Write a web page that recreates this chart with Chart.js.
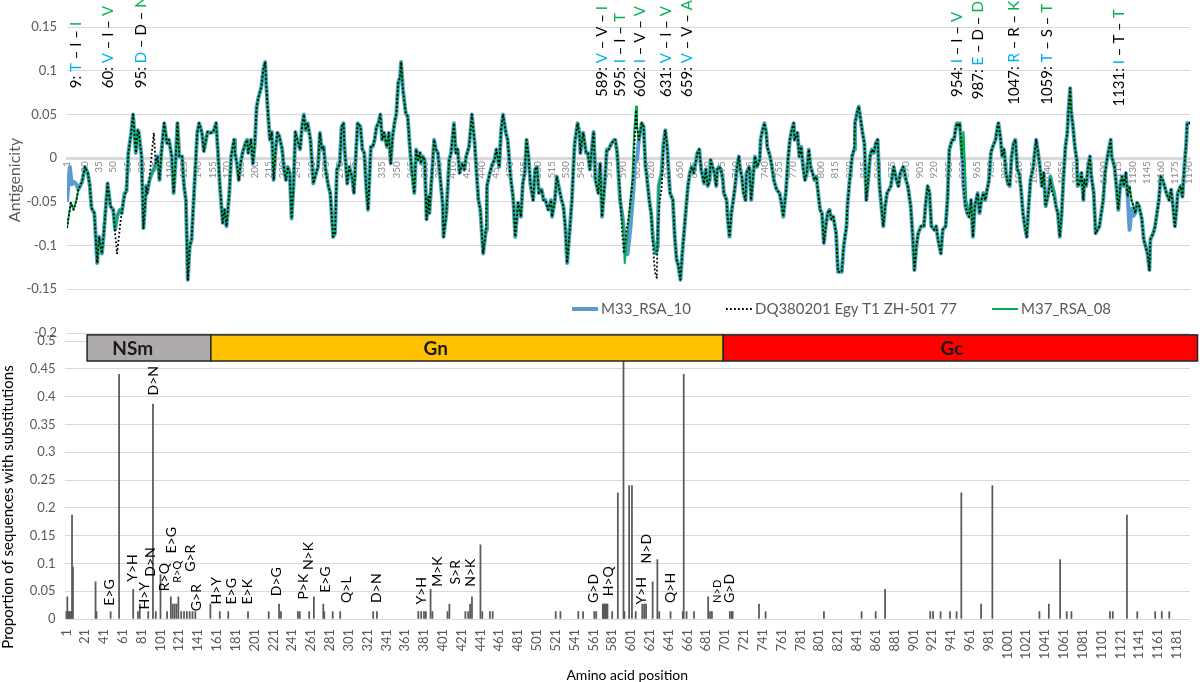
<!DOCTYPE html>
<html>
<head>
<meta charset="utf-8">
<script src="https://cdn.jsdelivr.net/npm/chart.js@4.4.1/dist/chart.umd.min.js"></script>
<style>
  html, body { margin: 0; background: #fff; }
  #wrap { position: relative; width: 1200px; height: 682px; overflow: hidden; }
  #topBox { position: absolute; left: 0; top: 0; width: 1200px; height: 345px; }
  #botBox { position: absolute; left: 0; top: 300px; width: 1200px; height: 382px; }
</style>
</head>
<body>
<div id="wrap">
  <div id="topBox"><canvas id="antigenChart" width="1200" height="345"></canvas></div>
  <div id="botBox"><canvas id="substChart" width="1200" height="382"></canvas></div>
</div>
<script>
// ---- antigenicity profile (shared by the three strains) ----
const sharedProfile = [
  [1,-0.080],[5,-0.051],[8,-0.059],[11,-0.048],[13,-0.036],[17,-0.027],[20,-0.010],[23,-0.017],[25,-0.030],[27,-0.057],
  [30,-0.063],[33,-0.120],[35,-0.090],[38,-0.109],[40,-0.086],[44,-0.029],[47,-0.055],[50,-0.059],[52,-0.082],[54,-0.067],
  [57,-0.059],[59,-0.063],[62,-0.040],[64,-0.038],[66,0.006],[69,0.029],[71,0.050],[74,0.006],[76,0.032],[77,0.030],
  [80,0.002],[82,-0.080],[85,-0.032],[86,-0.040],[88,-0.027],[91,-0.017],[94,-0.010],[97,0.002],[99,-0.025],[101,0.006],
  [104,0.040],[107,0.017],[109,0.021],[112,0.002],[114,-0.040],[116,-0.006],[118,0.040],[120,0.002],[123,0.002],[125,-0.032],
  [127,-0.048],[129,-0.139],[131,-0.101],[133,-0.093],[136,-0.032],[139,0.029],[141,0.040],[144,0.029],[146,0.008],[149,0.025],
  [150,0.030],[153,0.029],[156,0.030],[159,0.040],[161,0.006],[163,-0.032],[166,-0.074],[168,-0.059],[170,-0.078],[173,-0.040],
  [175,0.002],[178,0.021],[179,0.006],[181,-0.006],[183,-0.025],[185,-0.006],[187,0.006],[190,0.017],[192,0.021],[193,0.006],
  [196,0.021],[198,-0.006],[200,0.017],[202,0.059],[204,0.070],[207,0.082],[209,0.101],[211,0.110],[212,0.086],[214,0.051],
  [216,0.021],[218,0.030],[220,-0.025],[222,0.010],[224,0.029],[226,0.025],[229,0.010],[231,-0.013],[233,-0.025],[235,-0.010],
  [237,-0.017],[239,-0.069],[241,-0.032],[243,0.030],[245,0.021],[248,0.010],[250,0.036],[252,0.050],[254,0.032],[256,0.040],
  [259,0.021],[261,-0.010],[262,-0.029],[265,-0.017],[267,-0.010],[269,0.029],[271,0.010],[273,0.013],[275,-0.013],[278,-0.032],
  [280,-0.040],[283,-0.090],[285,-0.086],[287,-0.013],[290,-0.006],[292,0.036],[294,0.040],[295,0.013],[298,-0.029],[300,-0.010],
  [303,-0.021],[305,-0.040],[307,0.002],[309,0.040],[312,0.036],[314,0.010],[316,0.006],[318,-0.032],[320,-0.059],[323,0.013],
  [325,0.013],[327,0.021],[329,0.036],[331,0.040],[333,0.050],[335,0.021],[337,0.029],[340,0.013],[342,0.029],[344,-0.006],
  [346,0.025],[348,0.040],[350,0.051],[352,0.086],[354,0.093],[355,0.110],[357,0.078],[360,0.051],[362,0.048],[364,0.017],
  [366,-0.010],[369,-0.040],[371,0.010],[373,-0.002],[375,0.006],[376,-0.006],[378,0.002],[380,-0.002],[382,-0.070],[384,-0.044],
  [385,-0.063],[388,-0.013],[390,0.021],[392,0.010],[394,0.006],[396,-0.017],[399,-0.051],[400,-0.090],[403,-0.063],[406,-0.002],
  [408,0.006],[411,0.040],[413,0.006],[415,0.010],[417,-0.017],[420,-0.006],[422,-0.013],[424,0.002],[427,0.013],[429,0.036],
  [430,0.050],[433,0.017],[435,-0.017],[437,-0.048],[439,-0.059],[442,-0.109],[445,-0.082],[446,-0.032],[449,-0.017],[452,-0.006],
  [454,-0.002],[456,0.010],[459,-0.010],[461,0.032],[463,0.050],[466,0.029],[468,0.021],[471,-0.021],[474,-0.048],[476,-0.090],
  [479,-0.051],[482,-0.067],[484,-0.029],[486,-0.017],[488,0.021],[490,0.002],[492,-0.029],[495,-0.048],[497,-0.013],[499,-0.010],
  [501,-0.040],[504,-0.036],[506,-0.048],[508,-0.048],[511,-0.059],[514,-0.048],[515,-0.067],[518,-0.048],[520,-0.021],[522,-0.032],
  [525,-0.048],[527,-0.055],[529,-0.078],[531,-0.120],[534,-0.078],[536,-0.048],[538,-0.002],[539,0.017],[542,0.040],[544,0.029],
  [545,0.006],[548,0.029],[551,0.006],[553,0.006],[555,-0.013],[559,0.030],[561,-0.025],[564,-0.040],[566,-0.006],[568,-0.067],
  [571,-0.025],[573,0.010],[575,0.010],[578,0.017],[581,0.021],[582,0.021],[584,0.006],[587,-0.048],[590,-0.070],[592,-0.120],
  [595,-0.086],[598,-0.048],[600,-0.025],[602,0.029],[604,0.059],[605,0.036],[607,0.021],[610,0.040],[612,0.036],[614,-0.010],
  [615,-0.017],[618,-0.048],[620,-0.063],[622,-0.093],[625,-0.109],[627,-0.101],[628,-0.032],[631,-0.017],[633,0.017],[635,0.032],
  [637,0.013],[638,-0.006],[640,-0.040],[643,-0.048],[645,-0.090],[647,-0.116],[649,-0.124],[651,-0.139],[653,-0.109],[656,-0.070],
  [659,-0.032],[661,-0.017],[663,-0.010],[665,-0.017],[667,-0.006],[669,0.006],[671,0.010],[673,-0.013],[676,-0.029],[678,-0.013],
  [680,-0.032],[682,-0.025],[683,-0.002],[685,-0.010],[687,-0.017],[689,-0.032],[690,-0.013],[692,-0.010],[694,-0.013],[696,-0.025],
  [697,-0.040],[700,-0.048],[701,-0.067],[703,-0.090],[705,-0.063],[707,-0.048],[709,-0.032],[711,-0.010],[713,0.002],[714,-0.010],
  [716,-0.021],[718,-0.040],[720,-0.048],[721,-0.017],[724,-0.010],[725,-0.029],[726,-0.048],[728,-0.021],[730,0.002],[732,-0.010],
  [735,-0.002],[736,0.021],[738,0.032],[740,0.040],[742,0.029],[743,0.013],[746,0.002],[748,-0.010],[750,-0.025],[753,-0.036],
  [756,-0.040],[758,-0.051],[760,-0.067],[763,-0.036],[765,-0.002],[767,0.021],[769,0.032],[771,0.040],[772,0.021],[775,0.029],
  [777,0.002],[779,0.013],[781,-0.010],[783,-0.025],[785,-0.017],[787,0.010],[789,-0.010],[791,-0.017],[793,-0.025],[795,-0.021],
  [797,-0.040],[799,-0.059],[801,-0.063],[803,-0.097],[805,-0.078],[807,-0.063],[809,-0.059],[811,-0.070],[813,-0.067],[816,-0.086],
  [818,-0.130],[820,-0.130],[822,-0.130],[824,-0.101],[827,-0.078],[828,-0.055],[830,-0.029],[833,0.002],[835,0.010],[836,0.040],
  [838,0.051],[840,0.059],[842,0.044],[844,0.029],[846,0.017],[848,-0.048],[850,-0.025],[852,0.002],[854,0.010],[856,0.006],
  [858,0.017],[860,0.021],[862,-0.032],[864,-0.055],[866,-0.078],[868,-0.055],[870,-0.040],[874,-0.032],[877,-0.010],[880,-0.025],
  [882,-0.032],[884,-0.017],[887,-0.010],[888,-0.013],[890,-0.025],[892,-0.032],[895,-0.055],[897,-0.086],[899,-0.128],[901,-0.101],
  [903,-0.086],[906,-0.078],[909,-0.078],[911,-0.051],[913,-0.032],[915,-0.040],[917,-0.078],[920,-0.082],[922,-0.078],[924,-0.093],
  [927,-0.109],[929,-0.082],[932,-0.078],[934,-0.048],[936,0.010],[939,0.021],[941,0.021],[943,0.036],[944,0.040],[946,0.036],
  [947,0.040],[950,-0.002],[951,-0.032],[953,-0.055],[955,-0.063],[957,-0.067],[959,-0.048],[961,-0.090],[963,-0.055],[966,-0.040],
  [968,-0.063],[970,-0.048],[972,-0.040],[974,-0.048],[976,-0.036],[978,-0.025],[980,0.006],[982,0.013],[985,0.021],[987,0.036],
  [988,0.040],[990,0.025],[992,0.002],[994,0.010],[996,-0.017],[998,-0.029],[1000,-0.032],[1002,0.002],[1004,0.017],[1006,0.021],
  [1008,-0.013],[1010,-0.017],[1012,-0.036],[1014,-0.063],[1016,-0.078],[1018,-0.090],[1020,-0.055],[1022,-0.025],[1025,-0.010],[1026,0.002],
  [1028,0.021],[1030,0.006],[1032,-0.010],[1034,-0.032],[1036,-0.017],[1038,-0.055],[1041,-0.040],[1043,-0.021],[1045,-0.032],[1047,-0.040],
  [1049,-0.055],[1051,-0.063],[1053,-0.090],[1055,-0.063],[1057,-0.021],[1059,0.013],[1061,0.029],[1062,0.051],[1064,0.080],[1065,0.055],
  [1067,0.036],[1069,0.013],[1071,-0.002],[1072,-0.032],[1074,-0.029],[1076,-0.017],[1078,-0.048],[1079,-0.025],[1081,-0.032],[1083,-0.010],
  [1085,0.002],[1086,-0.017],[1089,-0.040],[1091,-0.086],[1093,-0.082],[1095,-0.078],[1097,-0.063],[1099,-0.048],[1101,-0.017],[1103,-0.002],
  [1105,0.010],[1107,0.021],[1108,0.002],[1111,-0.010],[1113,-0.032],[1115,-0.059],[1117,-0.032],[1119,-0.021],[1121,-0.032],[1123,-0.017],
  [1125,-0.044],[1127,-0.032],[1129,-0.048],[1131,-0.055],[1133,-0.063],[1135,-0.051],[1137,-0.055],[1140,-0.070],[1142,-0.093],[1144,-0.101],
  [1146,-0.109],[1148,-0.128],[1149,-0.093],[1152,-0.086],[1154,-0.078],[1156,-0.063],[1158,-0.048],[1160,-0.021],[1162,-0.025],[1164,-0.032],
  [1166,-0.040],[1169,-0.048],[1171,-0.036],[1173,-0.055],[1175,-0.078],[1177,-0.055],[1178,-0.040],[1181,-0.032],[1183,-0.044],[1185,-0.010],
  [1187,0.017],[1188,0.040],[1191,0.040]
];

// stretches where one strain leaves the shared profile
const m33Segments = [
  [[1,-0.050],[4,-0.010],[6,-0.030],[8,-0.027],[11,-0.030],[13,-0.036]],
  [[590,-0.070],[592,-0.090],[595,-0.110],[598,-0.080],[601,-0.040],[603,0.000],[605,-0.002],[607,0.021]],
  [[1125,-0.044],[1127,-0.082],[1129,-0.058],[1131,-0.066],[1133,-0.063],[1135,-0.051]]
];
const dqSegments = [
  [[50,-0.059],[52,-0.086],[53,-0.097],[54,-0.109],[56,-0.090],[58,-0.070],[61,-0.048],[63,-0.040]],
  [[88,-0.027],[91,0.008],[93,0.029],[95,-0.006]],
  [[584,0.006],[587,-0.040],[589,-0.080],[591,-0.109],[594,-0.082],[597,-0.060],[601,-0.021],[604,0.055]],
  [[620,-0.063],[622,-0.101],[624,-0.130],[626,-0.137],[627,-0.082],[629,-0.048],[631,-0.036],[633,0.010]],
  [[1043,-0.025],[1045,-0.040],[1047,-0.044]]
];
const m37Segments = [
  [[947,0.040],[949,0.000],[951,0.030],[954,-0.048],[957,-0.067]]
];

const topTicks = [1];
for (let v = 20; v <= 1190; v += 15) topTicks.push(v);

// labelled sites: M33 / DQ380201 / M37 residues
const mutSite = [9, 60, 95, 589, 595, 602, 631, 659, 954, 987, 1047, 1059, 1131];
const mutM33 = ['T', 'V', 'D', 'V', 'I', 'I', 'V', 'V', 'I', 'E', 'R', 'T', 'I'];
const mutDQ = ['I', 'I', 'D', 'V', 'I', 'V', 'I', 'V', 'I', 'D', 'R', 'S', 'T'];
const mutM37 = ['I', 'V', 'N', 'I', 'T', 'V', 'V', 'A', 'V', 'D', 'K', 'T', 'T'];
const mutLabelAt = [11, 45, 80, 568, 587, 608, 635.5, 658, 944, 967, 1004.5, 1039.5, 1115.5];
const mutLabelBase = [0.080, 0.080, 0.080, 0.070, 0.070, 0.070, 0.070, 0.070, 0.070, 0.0675, 0.061, 0.061, 0.059];

// ---- substitution proportions per amino acid position ----
const substitutionSites = [
  [1,0.0133],[2,0.04],[3,0.0133],[4,0.0133],[5,0.0133],[6,0.0133],[7,0.1867],[8,0.0933],[32,0.0667],[33,0.0133],
  [48,0.0133],[57,0.44],[72,0.0533],[77,0.0133],[79,0.0267],[88,0.0133],[93,0.3867],[96,0.0133],[101,0.08],[108,0.0133],
  [112,0.04],[114,0.0267],[116,0.0267],[118,0.0267],[120,0.04],[123,0.0133],[126,0.0133],[129,0.0133],[132,0.0133],[135,0.0133],
  [138,0.0133],[154,0.0267],[164,0.0133],[173,0.0133],[194,0.0133],[216,0.0133],[227,0.0267],[229,0.0133],[247,0.0133],[249,0.0133],
  [259,0.0133],[264,0.04],[274,0.0267],[275,0.0133],[284,0.0133],[292,0.0133],[327,0.0133],[331,0.0133],[375,0.0133],[378,0.0133],
  [381,0.0133],[383,0.0133],[388,0.0533],[390,0.0133],[406,0.0133],[408,0.0267],[425,0.0133],[428,0.0133],[430,0.0267],[432,0.04],
  [441,0.1333],[443,0.0133],[451,0.0133],[454,0.0133],[521,0.0133],[526,0.0133],[545,0.0133],[550,0.0133],[562,0.0133],[564,0.0133],
  [571,0.0267],[572,0.0267],[573,0.0267],[574,0.0267],[575,0.0267],[576,0.0267],[581,0.0133],[587,0.2267],[593,0.5],[594,0.0133],
  [599,0.24],[602,0.24],[606,0.0133],[613,0.0267],[615,0.0267],[617,0.0267],[624,0.0667],[629,0.1067],[631,0.0133],[643,0.0133],
  [656,0.0133],[657,0.44],[660,0.0133],[668,0.0133],[683,0.04],[685,0.0133],[687,0.0133],[706,0.0133],[708,0.0133],[709,0.0133],
  [737,0.0267],[744,0.0133],[806,0.0133],[846,0.0133],[861,0.0133],[871,0.0533],[919,0.0133],[922,0.0133],[930,0.0133],[940,0.0133],
  [947,0.0133],[952,0.2267],[973,0.0267],[985,0.24],[1035,0.0133],[1045,0.0267],[1057,0.1067],[1064,0.0133],[1069,0.0133],[1110,0.0133],
  [1113,0.0133],[1128,0.1867],[1139,0.0133],[1158,0.0133],[1165,0.0133],[1173,0.0133]
];

const bottomTicks = [];
for (let v = 1; v <= 1181; v += 20) bottomTicks.push(v);

const substLabelText = ['E>G','Y>H','H>Y','D>N','D>N','R>Q','E>G','R>Q','G>R','G>R','H>Y','E>G','E>K','D>G','P>K','N>K',
  'E>G','Q>L','D>N','Y>H','M>K','S>R','N>K','G>D','H>Q','Y>H','N>D','Q>H','N>D','G>D'];
const substLabelPos = [47, 71.5, 84, 90.5, 94, 105.5, 112.5, 119, 133, 139, 160.5, 176.5, 193.5, 224, 253, 258,
  276.5, 298.5, 330.5, 378.5, 395, 414, 430.5, 561, 577.5, 612, 617, 643, 693, 706];
const substLabelBase = [0.024, 0.067, 0.017, 0.076, 0.402, 0.05, 0.118, 0.065, 0.085, 0.014, 0.026, 0.026, 0.026, 0.041, 0.035, 0.088,
  0.047, 0.029, 0.029, 0.026, 0.058, 0.062, 0.058, 0.029, 0.041, 0.026, 0.1, 0.029, 0.029, 0.029];

const domainNames = ['NSm', 'Gn', 'Gc'];
const domainStart = [23, 154.5, 699];
const domainEnd = [154.5, 699, 1203];
const domainLabelAt = [71.5, 393.5, 942];

function buildSeries(segments) {
  let pts = sharedProfile.map(([x, y]) => ({ x, y }));
  segments.forEach(seg => {
    const lo = seg[0][0], hi = seg[seg.length - 1][0];
    pts = pts.filter(p => p.x < lo || p.x > hi);
    seg.forEach(([x, y]) => pts.push({ x, y }));
  });
  return pts.sort((a, b) => a.x - b.x);
}

// keep the plot area exactly where layout.padding puts it
function noScalePadding(s) {
  s.paddingLeft = 0; s.paddingRight = 0; s.paddingTop = 0; s.paddingBottom = 0;
}

Chart.defaults.font.family = 'Lato, "Open Sans", sans-serif';

const topExtras = {
  id: 'topExtras',
  afterDraw(chart) {
    const { ctx, scales: { x, y } } = chart;
    ctx.save();
    ctx.font = '15px Lato';
    ctx.textBaseline = 'middle';
    ctx.textAlign = 'left';
    mutSite.forEach((site, i) => {
      const parts = [[site + ': ', '#000'], [mutM33[i], '#00b0f0'], [' – ', '#000'], [mutDQ[i], '#000'], [' – ', '#000'], [mutM37[i], '#00b050']];
      ctx.save();
      ctx.translate(x.getPixelForValue(mutLabelAt[i]), y.getPixelForValue(mutLabelBase[i]));
      ctx.rotate(-Math.PI / 2);
      let off = 0;
      parts.forEach(([t, c]) => {
        ctx.fillStyle = c;
        ctx.fillText(t, off, 0);
        off += ctx.measureText(t).width;
      });
      ctx.restore();
    });

    // legend
    let lx = 572;
    const ly = 309;
    chart.data.datasets.forEach(ds => {
      ctx.beginPath();
      ctx.strokeStyle = ds.borderColor;
      ctx.lineWidth = Math.max(ds.borderWidth, 2);
      ctx.setLineDash(ds.borderDash || []);
      ctx.moveTo(lx, ly);
      ctx.lineTo(lx + 26, ly);
      ctx.stroke();
      ctx.setLineDash([]);
      ctx.fillStyle = '#595959';
      ctx.fillText(ds.label, lx + 29, ly);
      lx += 29 + ctx.measureText(ds.label).width + 35;
    });
    ctx.restore();
  }
};

new Chart(document.getElementById('antigenChart'), {
  type: 'line',
  data: {
    datasets: [
      { label: 'M33_RSA_10', data: buildSeries(m33Segments), borderColor: '#5b9bd5', borderWidth: 4, order: 3 },
      { label: 'DQ380201 Egy T1 ZH-501 77', data: buildSeries(dqSegments), borderColor: '#000000', borderWidth: 1.8, borderDash: [1.8, 2.2], order: 1 },
      { label: 'M37_RSA_08', data: buildSeries(m37Segments), borderColor: '#00b050', borderWidth: 2, order: 2 }
    ]
  },
  options: {
    responsive: false,
    animation: false,
    elements: { point: { radius: 0 }, line: { tension: 0, borderJoinStyle: 'round' } },
    layout: { padding: { top: 27, right: 10, bottom: 12, left: 0 } },
    plugins: { legend: { display: false }, tooltip: { enabled: false } },
    scales: {
      x: {
        type: 'linear', min: 1, max: 1191, position: { y: 0 },
        afterFit: s => { s.height = 0; noScalePadding(s); },
        afterBuildTicks: s => { s.ticks = topTicks.map(v => ({ value: v })); },
        grid: { display: false, drawTicks: false },
        border: { color: '#d9d9d9', width: 3 },
        ticks: { autoSkip: false, minRotation: 90, maxRotation: 90, padding: 3, color: '#8c8c8c', font: { size: 10 }, callback: v => String(v) }
      },
      y: {
        min: -0.2, max: 0.15,
        afterFit: s => { s.width = 67; noScalePadding(s); },
        ticks: { stepSize: 0.05, padding: 10, color: '#595959', font: { size: 13 }, callback: v => +v.toFixed(2) },
        grid: { color: '#d9d9d9', drawTicks: false },
        border: { display: false },
        title: { display: true, text: 'Antigenicity', color: '#595959', font: { size: 16 }, padding: { top: 5, bottom: 0 } }
      }
    }
  },
  plugins: [topExtras]
});

const bottomExtras = {
  id: 'bottomExtras',
  afterDraw(chart) {
    const { ctx, scales: { x, y } } = chart;
    ctx.save();
    ctx.fillStyle = '#000';
    ctx.textBaseline = 'middle';
    ctx.textAlign = 'left';
    substLabelText.forEach((t, i) => {
      const small = (substLabelPos[i] === 119 || substLabelPos[i] === 693);
      ctx.font = (small ? 11 : 14) + 'px Lato';
      ctx.save();
      ctx.translate(x.getPixelForValue(substLabelPos[i]), y.getPixelForValue(substLabelBase[i]));
      ctx.rotate(-Math.PI / 2);
      ctx.fillText(t, 0, 0);
      ctx.restore();
    });

    const fills = ['#aeaaaa', '#ffc000', '#ff0000'];
    const top = y.getPixelForValue(0.511), bot = y.getPixelForValue(0.464);
    domainNames.forEach((name, i) => {
      const l = x.getPixelForValue(domainStart[i]), r = x.getPixelForValue(domainEnd[i]);
      ctx.fillStyle = fills[i];
      ctx.fillRect(l, top, r - l, bot - top);
      ctx.strokeStyle = '#262626';
      ctx.lineWidth = 1.5;
      ctx.strokeRect(l, top, r - l, bot - top);
      ctx.fillStyle = '#1a1a1a';
      ctx.font = 'bold 19px Lato';
      ctx.textAlign = 'center';
      ctx.fillText(name, x.getPixelForValue(domainLabelAt[i]), (top + bot) / 2 + 1);
    });

    ctx.translate(8, 207);
    ctx.rotate(-Math.PI / 2);
    ctx.textAlign = 'center';
    ctx.fillStyle = '#000';
    ctx.font = '15px Lato';
    ctx.fillText('Proportion of sequences with substitutions', 0, 0);
    ctx.restore();
  }
};

new Chart(document.getElementById('substChart'), {
  type: 'bar',
  data: {
    datasets: [{
      data: substitutionSites.map(([x, y]) => ({ x, y })),
      backgroundColor: '#595959',
      barThickness: 1.1
    }]
  },
  options: {
    responsive: false,
    animation: false,
    layout: { padding: { top: 41, right: 10, bottom: 0, left: 0 } },
    plugins: { legend: { display: false }, tooltip: { enabled: false } },
    scales: {
      x: {
        type: 'linear', min: -1, max: 1195, offset: false,
        afterFit: s => { s.height = 63; noScalePadding(s); },
        afterBuildTicks: s => { s.ticks = bottomTicks.map(v => ({ value: v })); },
        grid: { display: false, drawTicks: false, offset: false },
        border: { display: false },
        ticks: { autoSkip: false, minRotation: 90, maxRotation: 90, padding: 10, color: '#595959', font: { size: 13 }, callback: v => String(v) },
        title: { display: true, text: 'Amino acid position', color: '#000', font: { size: 14, lineHeight: 1 }, padding: 0 }
      },
      y: {
        min: 0, max: 0.5,
        afterFit: s => { s.width = 64.5; noScalePadding(s); },
        ticks: { stepSize: 0.05, padding: 9, color: '#595959', font: { size: 13 }, callback: v => +v.toFixed(2) },
        grid: { color: '#d9d9d9', drawTicks: false },
        border: { display: false }
      }
    }
  },
  plugins: [bottomExtras]
});
</script>
</body>
</html>
